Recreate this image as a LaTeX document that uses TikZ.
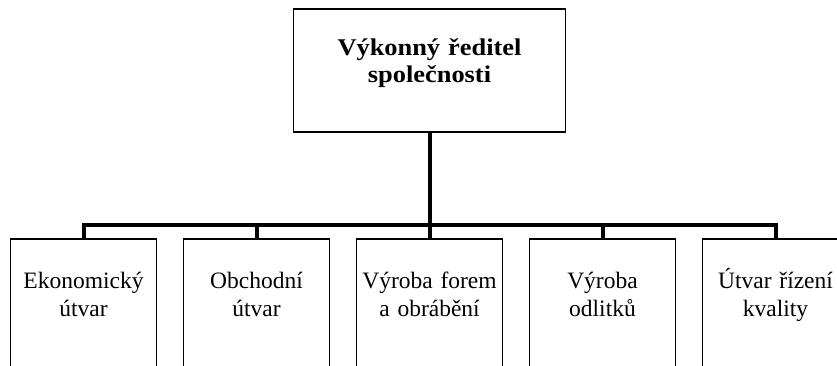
\documentclass[tikz,border=0pt]{standalone}
\usepackage{fontspec}
\setmainfont{Liberation Serif}
\newfontfamily\headfont[FakeStretch=1.1]{Liberation Serif}
\usetikzlibrary{positioning}

\begin{document}
\begin{tikzpicture}[x=1pt,y=1pt]

\tikzset{head box/.style={
    draw, line width=1.2pt,
    minimum width=272pt, minimum height=123pt,
    inner sep=0pt, outer sep=0pt
  },
  unit box/.style={
    draw, line width=1.2pt,
    minimum width=146pt, minimum height=170pt,
    inner sep=0pt, outer sep=0pt
  },
  unit text/.style={
    font=\fontsize{23.5}{28}\selectfont,
    text width=150pt, align=center,
    anchor=base, inner sep=0pt
  },
  bus line/.style={line width=4pt}
}

\clip (0,0) rectangle (837,365);

\node[head box] (ceo) at (429.5,294.5) {};
\node[unit text, text width=260pt,
  font=\headfont\fontsize{24}{27}\selectfont\bfseries]
  (ceot) at ([yshift=-47pt]ceo.north) {Výkonný ředitel\\společnosti};

\node[unit box, anchor=north] (eko) at (83.5,126) {};
\node[unit box, right=27pt of eko] (obch) {};
\node[unit box, right=27pt of obch] (vyr) {};
\node[unit box, right=27pt of vyr] (odl) {};
\node[unit box, right=27pt of odl] (kval) {};

\node[unit text] (ekot) at ([yshift=-49pt]eko.north) {Ekonomický\\útvar};
\node[unit text] (obcht) at ([yshift=-49pt]obch.north) {Obchodní\\útvar};
\node[unit text] (vyrt) at ([yshift=-49pt]vyr.north) {Výroba forem\\a obrábění};
\node[unit text] (odlt) at ([yshift=-49pt]odl.north) {Výroba\\odlitků};
\node[unit text] (kvalt) at ([yshift=-49pt]kval.north) {Útvar řízení\\kvality};

% spojovaci linky
\coordinate (bus) at (0,140);
\draw[bus line] (ceo.south) -- (vyr.north);
\draw[bus line] (eko.north) -- (eko.north |- bus) -- (kval.north |- bus) -- (kval.north);
\draw[bus line] (obch.north) -- (obch.north |- bus);
\draw[bus line] (odl.north) -- (odl.north |- bus);

\end{tikzpicture}
\end{document}
